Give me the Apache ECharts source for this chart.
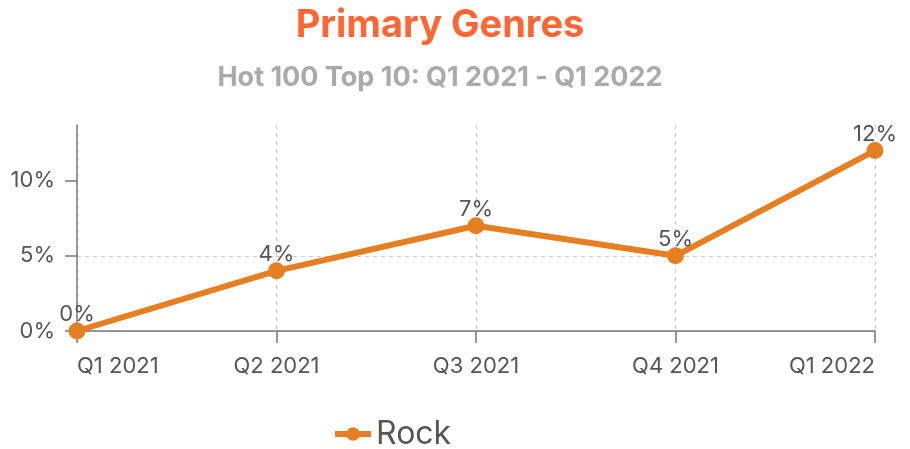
<!DOCTYPE html>
<html>
<head>
<meta charset="utf-8">
<script src="https://cdn.jsdelivr.net/npm/echarts@6/dist/echarts.min.js"></script>
<style>
  html, body { margin: 0; padding: 0; background: #fff; }
  #chart { width: 910px; height: 449px; }
</style>
</head>
<body>
<div id="chart"></div>
<script>
// quarters on the x axis
var quarters = ['Q1 2021', 'Q2 2021', 'Q3 2021', 'Q4 2021', 'Q1 2022'];
// share of Hot 100 top 10 (percent)
var rockValues = [0, 4, 7, 5, 12];
var yTicks = [0, 5, 10];

var chart = echarts.init(document.getElementById('chart'));
var font = 'Inter';
chart.setOption({
  title: {
    text: 'Primary Genres',
    subtext: 'Hot 100 Top 10: Q1 2021 - Q1 2022',
    left: 435,
    textAlign: 'center',
    top: 4,
    padding: [3, 5, 5, 5],
    itemGap: 19,
    textStyle: { color: '#ff6633', fontSize: 38, fontWeight: 'bold', fontFamily: font },
    subtextStyle: { color: '#aaaaaa', fontSize: 27, fontWeight: 'bold', fontFamily: font }
  },
  legend: {
    top: 413,
    left: 327,
    data: ['Rock'],
    itemWidth: 36,
    itemHeight: 17,
    itemGap: 10,
    lineStyle: { width: 6 },
    textStyle: { fontSize: 32, color: '#555', fontFamily: font }
  },
  grid: { left: 77, right: 35, top: 125, bottom: 118, containLabel: false },
  xAxis: {
    type: 'category',
    boundaryGap: false,
    data: quarters,
    axisLine: { lineStyle: { color: '#777', width: 1.5 } },
    axisTick: { show: true, length: 12, lineStyle: { color: '#777', width: 1.5 } },
    axisLabel: {
      fontSize: 22, color: '#555', fontFamily: font, margin: 24,
      alignMinLabel: 'left', alignMaxLabel: 'right'
    },
    splitLine: { show: true, lineStyle: { color: '#ccc', type: [4, 4], width: 1 } }
  },
  yAxis: {
    type: 'value',
    min: 0,
    max: 13.7,
    interval: 5,
    axisLine: { show: true, lineStyle: { color: '#777', width: 1.5 } },
    axisTick: { show: true, length: 12, customValues: yTicks, lineStyle: { color: '#777', width: 1.5 } },
    axisLabel: {
      fontSize: 22, color: '#555', fontFamily: font, margin: 22,
      customValues: yTicks,
      formatter: '{value}%'
    },
    splitLine: { show: true, showMaxLine: false, lineStyle: { color: '#ccc', type: [4, 4], width: 1 } }
  },
  series: [{
    name: 'Rock',
    type: 'line',
    data: rockValues,
    color: '#e67e22',
    symbol: 'circle',
    symbolSize: 17,
    lineStyle: { width: 6 },
    label: {
      show: true,
      position: 'top',
      distance: -3,
      formatter: '{c}%',
      fontSize: 22,
      color: '#555',
      fontFamily: font
    }
  }]
});
</script>
</body>
</html>
